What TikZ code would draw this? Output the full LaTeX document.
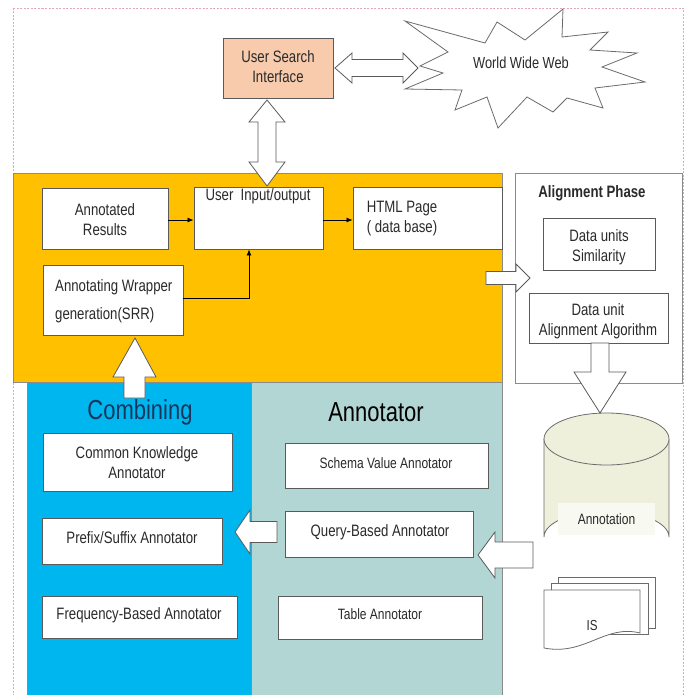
\documentclass[tikz,border=0pt]{standalone}
\usepackage{fontspec}
\setmainfont{Liberation Sans}[FakeStretch=0.8]
\usetikzlibrary{calc,fit,arrows.meta}
\definecolor{gold}{HTML}{FFC000}
\definecolor{skyb}{HTML}{00B6EF}
\definecolor{tealp}{HTML}{B2D6D3}
\definecolor{peach}{HTML}{F8CBAD}
\definecolor{cyl}{HTML}{EEF0DC}
\definecolor{cylin}{HTML}{F8F9F0}
\definecolor{edge}{HTML}{5A5A5A}
\definecolor{framec}{HTML}{E0A8B8}
\definecolor{navy}{HTML}{17365D}
\definecolor{ink}{HTML}{2A2A2A}
\begin{document}
\begin{tikzpicture}[x=1pt,y=-1pt,
  wbox/.style={draw=edge, fill=white, line width=0.9pt, inner sep=0pt},
  txt/.style={font=\fontsize{16.5}{20}\selectfont, text=ink, align=center, inner sep=0pt},
  stxt/.style={txt, font=\fontsize{15}{18}\selectfont},
  ttl/.style={font=\fontsize{27.5}{30}\selectfont, inner sep=0pt},
  conn/.style={-{Latex[length=6pt,width=5pt]}, line width=0.8pt, black},
  blk/.style={draw=edge, fill=white, line width=0.8pt, line join=miter},
  panel/.style={draw=edge!70, line width=0.8pt, inner sep=0pt},
]
\useasboundingbox (0,0) rectangle (689,695);
\clip (0,0) rectangle (689,695);

% page frame
\draw[framec, dash pattern=on 2pt off 1.5pt, line width=0.6pt] (13,8) rectangle (683,720);

% panels
\node[panel, fill=gold, fit={(13,173) (502,382)}] (yel) {};
\node[panel, fill=white, fit={(515,173) (682,383)}] (align) {};
\node[panel, fill=skyb, fit={(27,382) (251,710)}] (comb) {};
\node[panel, fill=tealp, fit={(251,382) (502,710)}] (annp) {};

% top
\node[wbox, fill=peach, fit={(223,38) (333,98)}] (usi) {};
\node[txt] at (278,67) {User Search\\Interface};

% star
\draw[blk, draw=edge!90, fill=white] (405,21) -- (485,43) -- (497,22) -- (525,40) -- (563,9) -- (562,37)
  -- (608,32) -- (590,50) -- (637,53) -- (602,67) -- (645,82) -- (595,88) -- (603,108)
  -- (567,98) -- (553,112) -- (527,97) -- (498,128) -- (487,97) -- (455,110) -- (462,90)
  -- (405,89) -- (443,73) -- (420,66) -- (448,52) -- cycle;
\node[txt, font=\fontsize{16}{19}\selectfont] (www) at (521,63) {World Wide Web};

% yellow content
\node[wbox, fit={(42,188) (168,249)}] (ar) {};
\node[txt] at (105,220) {Annotated\\Results};
\node[wbox, fit={(194,187) (323,249)}] (uio) {};
\node[txt] at (258,196) {User\ \ Input/output};
\node[wbox, fit={(353,187) (502,249)}] (html) {};
\node[txt] at (402,219) {HTML Page\\( data base)};
\node[wbox, fit={(43,265) (183,335)}] (wrap) {};
\node[txt, anchor=west, align=left, font=\fontsize{16.5}{28}\selectfont] at (55,301) {Annotating Wrapper\\generation(SRR)};

\draw[conn] (ar.east |- 0,220) -- (uio.west |- 0,220);
\draw[conn] (uio.east |- 0,220) -- (html.west |- 0,220);
\coordinate (wturn) at (249,298);
\draw[conn] (wrap.east |- wturn) -- (wturn) -- (wturn |- uio.south);

% alignment phase
\node[txt, font=\bfseries\fontsize{16.5}{20}\selectfont] at (592,193) {Alignment Phase};
\node[wbox, fit={(543,218) (655,270)}] (dus) {};
\node[txt] at (599,247) {Data units\\Similarity};
\node[wbox, fit={(529,293) (668,343)}] (dua) {};
\node[txt] at (598,321) {Data unit\\Alignment Algorithm};

% combining panel
\node[ttl, text=navy] at (140,412) {Combining};
\node[wbox, fit={(43,433) (232,491)}] (ck) {};
\node[txt] at (137,463) {Common Knowledge\\Annotator};
\node[wbox, fit={(42,518) (222,564)}] (ps) {};
\node[txt] at (132,538) {Prefix/Suffix Annotator};
\node[wbox, fit={(42,596) (237,638)}] (fb) {};
\node[txt] at (139,615) {Frequency-Based Annotator};

% annotator panel
\node[ttl, text=black] at (376,412) {Annotator};
\node[wbox, fit={(285,443) (488,488)}] (sv) {};
\node[stxt] at (386,463) {Schema Value Annotator};
\node[wbox, fit={(285,511) (473,557)}] (qb) {};
\node[txt] at (380,532) {Query-Based Annotator};
\node[wbox, fit={(278,596) (482,639)}] (ta) {};
\node[stxt] at (380,614) {Table Annotator};

% cylinder
\fill[cyl] (544,439) -- (544,537) arc[start angle=180, end angle=360, x radius=62.5, y radius=26] -- (669,439) -- cycle;
\draw[edge!90, line width=0.8pt] (544,439) -- (544,537) arc[start angle=180, end angle=360, x radius=62.5, y radius=26] -- (669,439);
\draw[edge!90, fill=cyl, line width=0.8pt] (606.5,439) ellipse[x radius=62.5, y radius=26];
\node[fill=cylin, minimum width=97, minimum height=32, inner sep=0pt, font=\fontsize{15}{18}\selectfont, text=ink] (ann) at (606.5,519) {Annotation};

% IS multi-document
\draw[edge!90, fill=white, line width=0.8pt] (558,577) rectangle (655,628);
\draw[edge!90, fill=white, line width=0.8pt] (551,583) rectangle (648,634);
\draw[edge!90, fill=white, line width=0.8pt] (544,590) -- (640,590) -- (640,633)
  .. controls (605,624) and (585,656) .. (544,648) -- cycle;
\node[txt, font=\fontsize{14.5}{17}\selectfont] (is) at (592,626) {IS};

% block arrows
\draw[blk] (335,68) -- (352,53) -- (352,59.5) -- (403,59.5) -- (403,53) -- (418,68)
  -- (403,83) -- (403,76.5) -- (352,76.5) -- (352,83) -- cycle;
\draw[blk] (267,100) -- (285,122) -- (276,122) -- (276,162) -- (285,162) -- (267,186)
  -- (249,162) -- (258,162) -- (258,122) -- (249,122) -- cycle;
\draw[blk] (486,271.5) -- (516,271.5) -- (516,264) -- (530,278) -- (516,292) -- (516,284.5)
  -- (486,284.5) -- cycle;
\draw[blk] (591,343) -- (609,343) -- (609,372) -- (626,372) -- (600,413) -- (574,372)
  -- (591,372) -- cycle;
\draw[blk] (135,338) -- (156,377) -- (145,377) -- (145,398) -- (124,398) -- (124,377)
  -- (113,377) -- cycle;
\draw[blk] (235,532) -- (250,510) -- (250,521.5) -- (277,521.5) -- (277,542.5) -- (250,542.5)
  -- (250,554) -- cycle;
\draw[blk] (478,555) -- (495,532) -- (495,542) -- (533,542) -- (533,568) -- (495,568)
  -- (495,578) -- cycle;
\end{tikzpicture}
\end{document}
